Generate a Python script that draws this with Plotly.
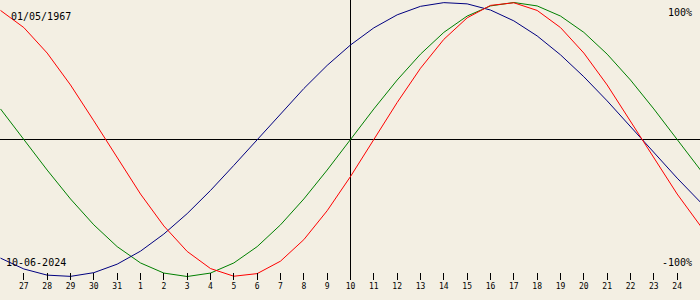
import plotly.graph_objects as go

# Day offsets relative to 10 June 2024 (26 May .. 25 June)
day_offsets = list(range(-15, 16))

# Biorhythm values (%) read for each day
physical = [94.2, 81.7, 63.1, 39.8, 13.6, -13.6, -39.8, -63.1, -81.7, -94.2,
            -99.8, -97.9, -88.8, -73.1, -52.0, -27.0, 0.0, 27.0, 52.0, 73.1,
            88.8, 97.9, 99.8, 94.2, 81.7, 63.1, 39.8, 13.6, -13.6, -39.8, -63.1]
emotional = [22.3, 0.0, -22.3, -43.4, -62.3, -78.2, -90.1, -97.5, -100.0, -97.5,
             -90.1, -78.2, -62.3, -43.4, -22.3, 0.0, 22.3, 43.4, 62.3, 78.2,
             90.1, 97.5, 100.0, 97.5, 90.1, 78.2, 62.3, 43.4, 22.3, 0.0, -22.3]
intellectual = [-86.6, -94.5, -99.0, -99.9, -97.2, -91.0, -81.5, -69.0, -54.1, -37.2,
                -18.9, 0.0, 18.9, 37.2, 54.1, 69.0, 81.5, 91.0, 97.2, 99.9,
                99.0, 94.5, 86.6, 75.6, 61.8, 45.8, 28.2, 9.5, -9.5, -28.2, -45.8]

tick_offsets = list(range(-14, 15))
tick_labels = ["27", "28", "29", "30", "31"] + [str(d) for d in range(1, 25)]

birth_label = "01/05/1967"
target_label = "10-06-2024"
top_label = "100%"
bottom_label = "-100%"

bg = "#F3EFE3"
mono = "DejaVu Sans Mono"

fig = go.Figure()
for vals, col in [(emotional, "#008000"), (intellectual, "#000080"), (physical, "#FF0000")]:
    fig.add_trace(go.Scatter(x=day_offsets, y=vals, mode="lines",
                             line=dict(color=col, width=1), hoverinfo="skip",
                             showlegend=False))

fig.add_shape(type="line", xref="paper", yref="y", x0=0, x1=1, y0=0, y1=0,
              line=dict(color="black", width=1), layer="below")
fig.add_shape(type="line", xref="x", yref="paper", x0=0, x1=0, y0=0, y1=1,
              line=dict(color="black", width=1), layer="below")

def ann(text, x, y, xanchor):
    fig.add_annotation(text=text, xref="paper", yref="paper", x=x, y=y,
                       xanchor=xanchor, yanchor="middle", showarrow=False,
                       font=dict(family=mono, size=10, color="black"))

ann(birth_label, 9 / 700, (280 - 16.5) / 280, "left")
ann(top_label, 694 / 700, (280 - 13) / 280, "right")
ann(target_label, 4 / 700, (280 - 262) / 280, "left")
ann(bottom_label, 694 / 700, (280 - 262.5) / 280, "right")

fig.update_layout(
    width=700, height=300,
    margin=dict(l=0, r=0, t=0, b=20),
    paper_bgcolor=bg, plot_bgcolor=bg,
    xaxis=dict(range=[-15.0214, 14.9786], showgrid=False, zeroline=False, showline=False,
               tickmode="array", tickvals=tick_offsets, ticktext=tick_labels,
               ticks="inside", ticklen=7, tickwidth=1, tickcolor="black",
               tickfont=dict(family=mono, size=8, color="black"),
               fixedrange=True),
    yaxis=dict(range=[-102.555, 101.825], showgrid=False, zeroline=False,
               showline=False, showticklabels=False, ticks="", fixedrange=True),
)

fig.write_html("out.html")
